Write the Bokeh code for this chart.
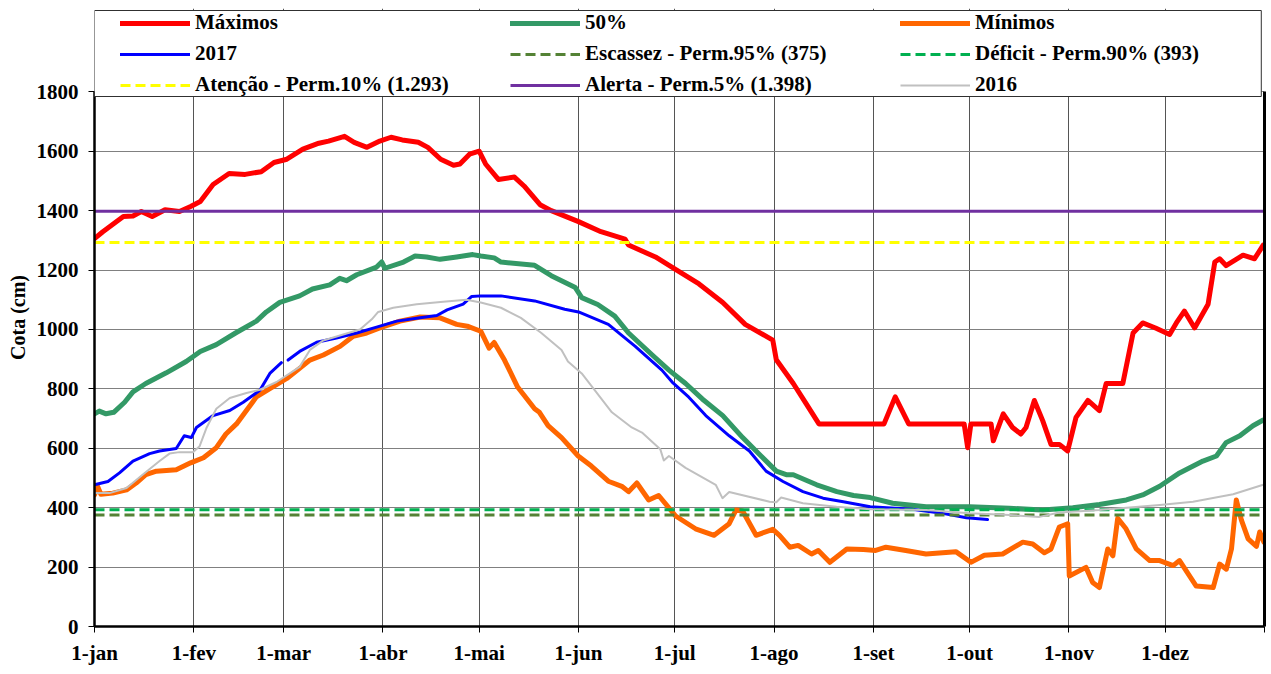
import math
from bokeh.plotting import figure
from bokeh.models import (Range1d, FixedTicker, LinearAxis, BoxAnnotation,
                          Legend, LegendItem)
from bokeh.embed import file_html
from bokeh.resources import INLINE

# ---------------- data ----------------
mes_dias = [0, 31, 59, 90, 120, 151, 181, 212, 243, 273, 304, 334, 365]
mes_rotulos = ["1-jan", "1-fev", "1-mar", "1-abr", "1-mai", "1-jun", "1-jul",
               "1-ago", "1-set", "1-out", "1-nov", "1-dez", ""]
cota_ticks = [0, 200, 400, 600, 800, 1000, 1200, 1400, 1600, 1800]

maximos_dia = [0, 2.6, 9, 12, 14.6, 18, 22, 26.5, 30, 33, 37, 42, 47, 52, 56, 60, 65, 70,
               73, 78, 81, 85, 89, 92.5, 96, 101, 104, 108, 112, 114, 117, 120, 122, 126,
               131, 134, 139, 142.5, 151, 158, 165.5, 166.6, 175, 181, 188.6, 196, 203,
               211.6, 212.7, 218, 222, 226, 242, 246.3, 249.8, 254, 271.3, 272.4, 273.4,
               279.7, 280.4, 283.5, 286.4, 289, 290.6, 293.2, 295.8, 298.4, 301, 303.6,
               306.2, 309.9, 313.5, 315.6, 320.8, 324, 327, 331, 335.4, 337.5, 340, 343.2,
               347.4, 349.5, 351, 353, 358.3, 361.9, 364.6]
maximos_cota = [1306, 1329, 1380, 1382, 1397, 1380, 1403, 1397, 1414, 1431, 1488, 1525,
                1522, 1531, 1562, 1573, 1607, 1627, 1634, 1650, 1630, 1613, 1634, 1647,
                1638, 1630, 1613, 1573, 1553, 1557, 1590, 1600, 1557, 1505, 1513, 1483,
                1420, 1400, 1363, 1329, 1304, 1284, 1244, 1204, 1153, 1091, 1017, 964,
                898, 818, 750, 682, 682, 682, 773, 682, 682, 602, 682, 682, 625, 716,
                670, 648, 670, 761, 693, 613, 613, 591, 704, 761, 727, 818, 818, 988,
                1022, 1005, 983, 1022, 1062, 1005, 1085, 1227, 1238, 1215, 1250, 1238,
                1284]

p50_dia = [0, 1.5, 3.6, 6, 9.4, 12, 16, 22.4, 28.6, 33, 38, 44, 50.5, 53.6, 57.8, 64, 68,
           73.4, 76.5, 78.6, 81.8, 88, 89.6, 90.6, 96.4, 100, 103.6, 107.8, 113, 118,
           120.5, 124.7, 126.8, 137.3, 142.5, 150, 152, 157, 162.3, 166.6, 174, 179.2,
           184.4, 189.6, 196, 202.2, 208.5, 212.7, 215.8, 218, 225.3, 231.6, 236.8, 242,
           249, 259.4, 273, 285.4, 295.8, 305.2, 313.5, 321.9, 327, 332.3, 338.5, 345.8,
           350, 353, 357.3, 361.4, 364.6]
p50_cota = [716, 725, 716, 721, 755, 790, 818, 854, 892, 926, 949, 988, 1028, 1059, 1091,
            1113, 1136, 1150, 1172, 1164, 1184, 1210, 1227, 1206, 1227, 1247, 1244, 1236,
            1244, 1252, 1247, 1241, 1227, 1216, 1181, 1141, 1107, 1084, 1045, 988, 914,
            863, 818, 766, 710, 636, 568, 523, 511, 511, 477, 454, 441, 434, 415, 403,
            403, 398, 392, 400, 411, 426, 443, 472, 517, 557, 574, 619, 642, 676, 695]

minimos_dia = [0, 1, 2, 5.7, 10, 13, 16, 19.3, 25.5, 30, 34, 38, 41, 44.3, 47.4, 50.5,
               54.7, 60, 64, 67.2, 71.4, 76.6, 80.7, 84.9, 89, 95.3, 101.6, 107.8, 113,
               116.3, 120.5, 123.1, 124.7, 127.9, 132, 137.3, 138.8, 141.5, 145.7, 150.9,
               155, 160.3, 164.5, 166.6, 169.2, 172.9, 176, 181.3, 187.5, 193.3, 198,
               200.1, 202.2, 206.4, 211.6, 213.7, 216.9, 219.5, 223.7, 225.8, 229.4, 234.7,
               239.9, 243.7, 246.9, 253.1, 259.4, 268.7, 273.4, 277.6, 283.3, 289.6, 292.7,
               296.3, 298.4, 301, 303.6, 304.1, 309.3, 311.4, 313.5, 316.1, 317.7, 319.2,
               321.8, 325, 329.2, 332.3, 336.5, 338.5, 343.7, 349, 351, 353.1, 354.7,
               356.2, 357.8, 359.9, 362.5, 363.5, 364.8]
minimos_cota = [443, 471, 445, 449, 460, 483, 511, 523, 528, 551, 568, 602, 648, 682, 727,
                773, 801, 835, 869, 897, 914, 943, 977, 988, 1005, 1028, 1042, 1039, 1017,
                1011, 994, 937, 956, 897, 806, 733, 721, 676, 636, 574, 540, 489, 472, 454,
                483, 426, 441, 372, 329, 307, 346, 392, 389, 307, 327, 307, 267, 273, 244,
                256, 216, 261, 259, 256, 267, 256, 244, 252, 216, 240, 244, 284, 278, 248,
                261, 335, 346, 170, 199, 148, 131, 261, 238, 364, 329, 261, 222, 222, 205,
                222, 136, 131, 210, 193, 261, 426, 358, 295, 270, 318, 284]

a2017_dia = [0, 4.2, 7.8, 12, 17.2, 20.3, 25.5, 28, 30.2, 31.8, 37, 42.2, 46.4, 51.6, 54.7,
             58.3, 59.3, 60.4, 64, 69.3, 75.5, 81.8, 88, 94.3, 101.6, 106.8, 110, 115,
             117.7, 120.5, 126.8, 137.3, 146.7, 151, 160.3, 168.7, 177, 180.2, 185.4,
             190.7, 198, 204.3, 209.5, 214.8, 221, 227.3, 233.6, 242, 255, 265, 272, 278.6]
a2017_cota = [477, 488, 517, 557, 582, 591, 599, 642, 636, 670, 710, 727, 755, 795, 852,
              888, float("nan"), 897, 926, 957, 971, 988, 1008, 1028, 1039, 1047, 1066,
              1085, 1111, 1113, 1113, 1096, 1068, 1059, 1017, 943, 863, 823, 772, 710, 642,
              591, 523, 488, 454, 432, 420, 403, 395, 380, 366, 360]

a2016_dia = [0, 4.7, 10, 15, 20.3, 23.4, 26.5, 30.7, 32.8, 35, 38, 42.2, 47.4, 51.6, 56.8,
             64, 67.2, 71.4, 77.6, 82.8, 86.5, 88.5, 93.2, 100.5, 108.8, 116, 120.5, 126.8,
             133, 139.4, 145.7, 147.7, 152, 156.1, 161.4, 167.6, 170.8, 176.5, 177.6,
             179.2, 184.4, 193.8, 195.9, 198, 210.6, 212.7, 214.2, 221, 231.5, 242, 259.4,
             273, 285.4, 294.8, 301, 313.5, 332.3, 342.7, 355.2, 364.6]
a2016_cota = [449, 449, 466, 511, 557, 582, 587, 587, 607, 670, 733, 769, 786, 797, 823,
              874, 931, 963, 983, 1000, 1034, 1059, 1073, 1085, 1093, 1100, 1091, 1073,
              1039, 988, 931, 892, 852, 795, 721, 670, 653, 597, 559, 574, 534, 477, 432,
              453, 420, 418, 434, 415, 403, 395, 392, 381, 375, 369, 384, 392, 409, 420,
              445, 477]

limite_nomes = ["Escassez - Perm.95% (375)", "Déficit - Perm.90% (393)",
                "Atenção - Perm.10% (1.293)", "Alerta - Perm.5% (1.398)"]
limite_valores = [375, 393, 1293, 1398]

# ---------------- figure ----------------
FONT = "'Liberation Serif', 'Times New Roman', serif"
x0, x1 = mes_dias[0], mes_dias[-1]
frame_h = 618
px_1800 = 534.7
y_top = cota_ticks[-1] * frame_h / px_1800

p = figure(frame_width=1170, frame_height=frame_h, output_backend="svg",
           toolbar_location=None, x_range=Range1d(x0, x1), y_range=Range1d(0, y_top),
           min_border_left=94, min_border_right=5, min_border_top=8,
           min_border_bottom=42, background_fill_color="white",
           border_fill_color="white")
p.outline_line_color = None

# axes
p.xaxis.ticker = FixedTicker(ticks=mes_dias)
p.xaxis.major_label_overrides = {d: r for d, r in zip(mes_dias, mes_rotulos)}
p.yaxis.ticker = FixedTicker(ticks=cota_ticks)
p.yaxis.bounds = (cota_ticks[0], cota_ticks[-1])
for ax in (p.xaxis, p.yaxis):
    ax.axis_line_color = "black"
    ax.axis_line_width = 2.5
    ax.major_tick_line_color = "black"
    ax.major_tick_line_width = 1
    ax.major_tick_out = 6
    ax.major_tick_in = 0
    ax.minor_tick_line_color = None
    ax.major_label_text_font = FONT
    ax.major_label_text_font_style = "bold"
    ax.major_label_text_font_size = "21px"
    ax.major_label_text_color = "black"
p.xaxis.major_label_standoff = 8
p.yaxis.major_label_standoff = 10
p.yaxis.axis_label = "Cota (cm)"
p.yaxis.axis_label_text_font = FONT
p.yaxis.axis_label_text_font_style = "bold"
p.yaxis.axis_label_text_font_size = "20px"
p.yaxis.axis_label_text_color = "black"
p.yaxis.axis_label_standoff = 5

rax = LinearAxis(ticker=FixedTicker(ticks=[]), bounds=(cota_ticks[0], cota_ticks[-1]),
                 axis_line_width=3, axis_line_color="black",
                 major_label_text_font_size="0px", major_tick_line_color=None,
                 minor_tick_line_color=None)
p.add_layout(rax, "right")

# grids
p.xgrid.grid_line_color = "#555555"
p.xgrid.grid_line_width = 1
p.ygrid.grid_line_color = "#808080"
p.ygrid.grid_line_width = 1

# ---------------- series ----------------
r_max = p.line(maximos_dia, maximos_cota, line_color="#ff0000", line_width=5,
               line_join="round", line_cap="round")
r_p50 = p.line(p50_dia, p50_cota, line_color="#339966", line_width=5,
               line_join="round", line_cap="round")
r_min = p.line(minimos_dia, minimos_cota, line_color="#ff6600", line_width=5,
               line_join="round", line_cap="round")
r_2017 = p.line(a2017_dia, a2017_cota, line_color="#0000ff", line_width=3,
                line_join="round", line_cap="round")
lim_cores = ["#548235", "#00b050", "#ffff00", "#7030a0"]
lim_dash = ["10 5", "10 5", "10 5", "solid"]
lim_r = []
for v, c, d in zip(limite_valores, lim_cores, lim_dash):
    lim_r.append(p.line([x0, x1], [v, v], line_color=c, line_width=3, line_dash=d))
r_2016 = p.line(a2016_dia, a2016_cota, line_color="#c0c0c0", line_width=2,
                line_join="round")

# ---------------- legend ----------------
box_bottom = (627 - 97) / px_1800 * cota_ticks[-1]
box_top = (627 - 11) / px_1800 * cota_ticks[-1]
caixa = BoxAnnotation(left=x0, right=x1 - 1, bottom=box_bottom, top=box_top,
                      fill_color="white", fill_alpha=1.0, line_color="#303030",
                      line_width=1, line_alpha=1.0)
p.add_layout(caixa)

colunas = [
    [("Máximos", r_max), ("2017", r_2017), (limite_nomes[2], lim_r[2])],
    [("50%", r_p50), (limite_nomes[0], lim_r[0]), (limite_nomes[3], lim_r[3])],
    [("Mínimos", r_min), (limite_nomes[1], lim_r[1]), ("2016", r_2016)],
]
for i, col in enumerate(colunas):
    lg = Legend(items=[LegendItem(label=t, renderers=[r]) for t, r in col],
                location=(26 + 390 * i, 529), orientation="vertical",
                glyph_width=70, glyph_height=24, label_height=24, label_width=10,
                label_standoff=5, spacing=6, padding=2, margin=0,
                border_line_color=None, background_fill_alpha=0.0,
                label_text_font=FONT, label_text_font_style="bold",
                label_text_font_size="21px", label_text_color="black")
    p.add_layout(lg, "center")

open("out.html", "w").write(file_html(p, INLINE))
